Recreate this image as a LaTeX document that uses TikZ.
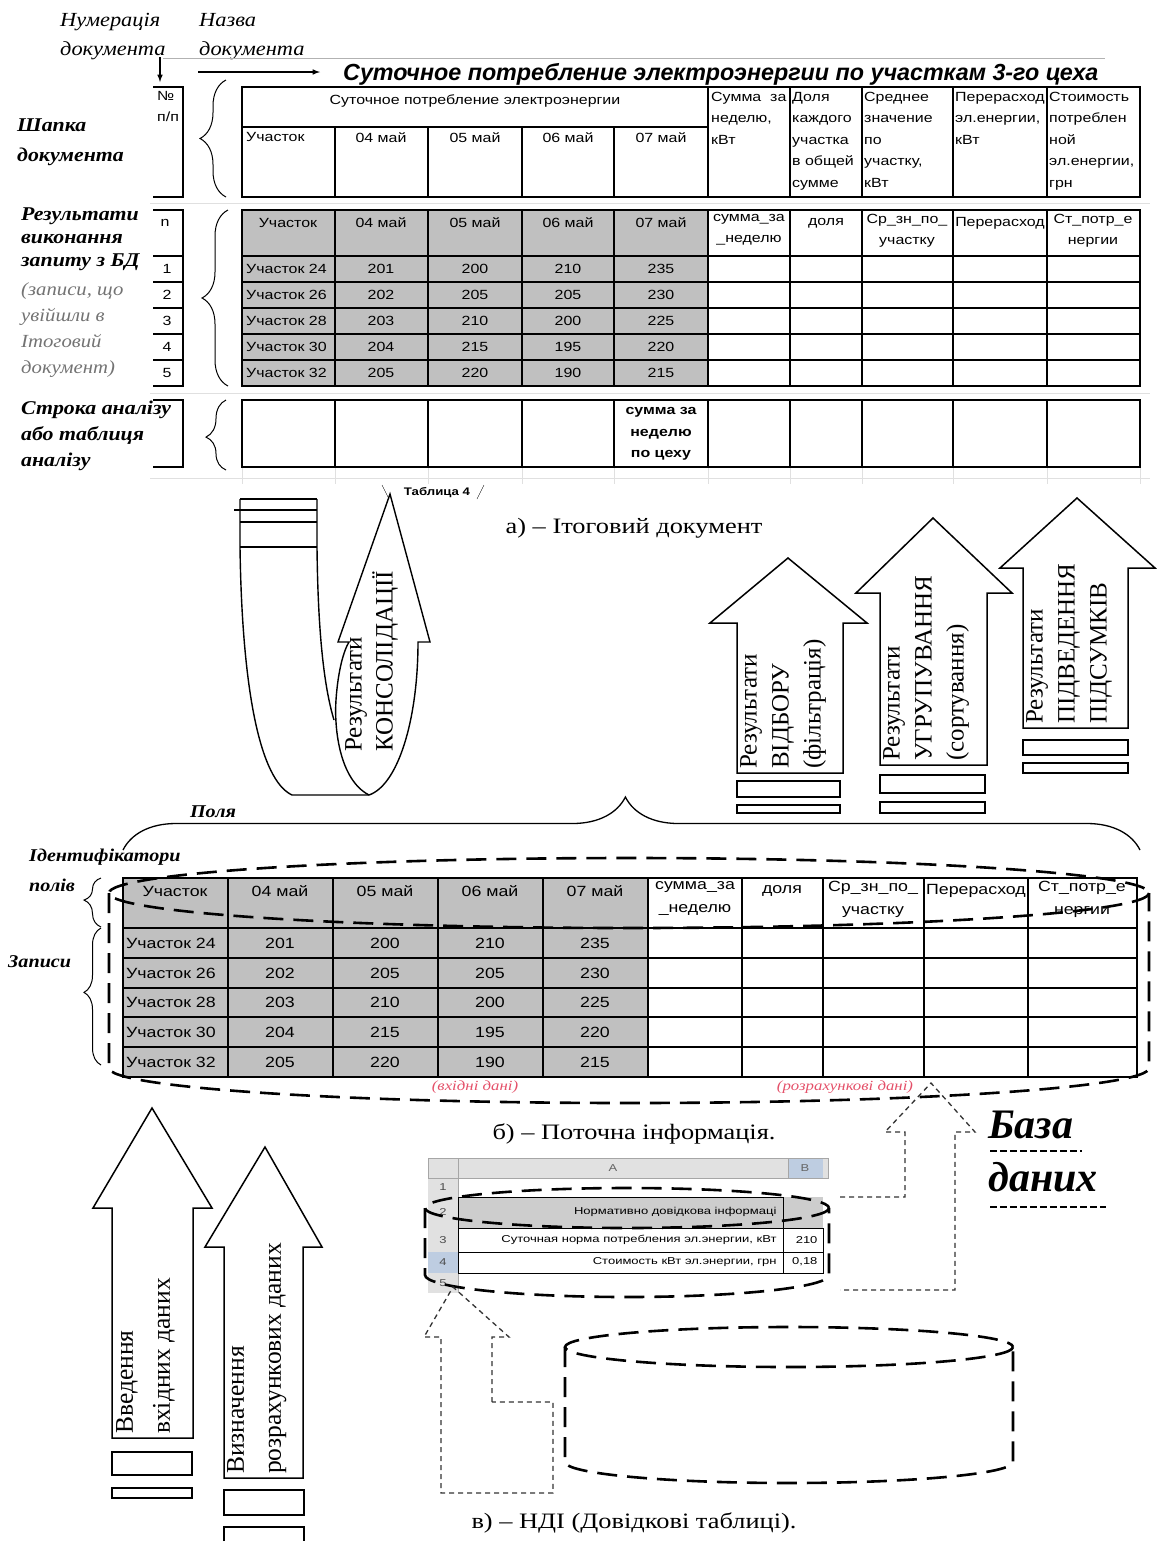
\documentclass[tikz,border=0pt]{standalone}
\usepackage{fontspec}
\setmainfont{Liberation Serif}
\setsansfont{Liberation Sans}
\newfontfamily\tabfam{Liberation Sans}[FakeStretch=1.2]
\newfontfamily\ndifam{Liberation Sans}[FakeStretch=1.3]
\newfontfamily\lblfam{Liberation Serif}[FakeStretch=1.12]
\newfontfamily\capfam{Liberation Serif}[FakeStretch=1.2]
\usepackage{xcolor}
\usetikzlibrary{decorations.pathreplacing}

\definecolor{cellgray}{RGB}{192,192,192}
\definecolor{sheetgray}{RGB}{225,225,225}
\definecolor{sheetblue}{RGB}{190,205,225}
\definecolor{notered}{RGB}{228,80,105}

\newcommand{\tabA}{\tabfam\fontsize{13.3}{21.5}\selectfont}
\newcommand{\tabB}{\tabfam\fontsize{14.8}{23}\selectfont}
\newcommand{\tabC}{\ndifam\fontsize{10}{11}\selectfont}
\newcommand{\arrfont}{\fontsize{25}{32}\selectfont}
\newcommand{\capfont}{\capfam\fontsize{22}{24}\selectfont}

\tikzset{
  tline/.style={line width=1.6pt},
  tbold/.style={line width=2.4pt},
  faint/.style={black!12, line width=0.8pt},
  cellA/.style={font=\tabA, inner sep=0pt, align=left},
  cellB/.style={font=\tabB, inner sep=0pt, align=center},
  lbl/.style={inner sep=0pt, align=left, anchor=north west},
  bigarrow/.style={line width=1.5pt, fill=white},
  arrtext/.style={font=\arrfont, inner sep=0pt, align=left, rotate=90, anchor=north west},
  dbdash/.style={line width=2.6pt, dash pattern=on 20pt off 10pt},
  dashlink/.style={line width=1.3pt, black!80, dash pattern=on 5pt off 4pt},
  lbrace/.style={decorate, line width=1pt}
}

\begin{document}
\begin{tikzpicture}[x=1pt, y=-1pt]
  \useasboundingbox (0,0) rectangle (1160,1551);

  % ---- а) Ітоговий документ
  % сітка аркуша
  \foreach \y in {203,393,478} \draw[faint] (150,\y) -- (1150,\y);
  \foreach \x in {242,335,428,522,614,708,790,862,953,1047,1140} \draw[faint] (\x,467) -- (\x,484);

  \node[lbl, font=\lblfam\itshape\fontsize{20}{29}\selectfont] (numlbl) at (60,13) {Нумерація\\документа};
  \node[lbl, font=\lblfam\itshape\fontsize{20}{29}\selectfont] (namelbl) at (199,13) {Назва\\документа};
  \draw[gray!60] (163,58) -- (1105,58);
  \coordinate (numtip) at (160,82);
  \coordinate (nametip) at (320,72);
  \draw[line width=1.5pt, -latex] (160,57) -- (numtip);
  \draw[line width=1.5pt, -latex] (198,72) -- (nametip);
  \node[font=\sffamily\bfseries\itshape\fontsize{23.3}{24}\selectfont, inner sep=0pt, anchor=west] (title) at (343,74) {Суточное потребление электроэнергии по участкам 3-го цеха};

  % шапка
  \draw[tline] (153,87) -- (183,87) -- (183,197) -- (153,197);
  \node[cellA, anchor=north west] (nph) at (157,91) {№\\п/п};
  \draw[tline] (242,87) rectangle (1140,197);
  \draw[tline] (242,127) -- (708,127);
  \foreach \x in {335,428,522,614} \draw[tline] (\x,127) -- (\x,197);
  \foreach \x in {708,790,862,953,1047} \draw[tline] (\x,87) -- (\x,197);
  \node[cellA] (hsum) at (475,101) {Суточное потребление электроэнергии};
  \node[cellA, anchor=north west] (hu) at (246,132) {Участок};
  \foreach \x/\d in {381/04, 475/05, 568/06, 661/07}
    \node[cellA, anchor=north] at (\x,132) {\d\ май};
  \node[cellA, anchor=north west] (hs) at (711,92) {Сумма\ \ за\\неделю,\\кВт};
  \node[cellA, anchor=north west] (hd) at (792,92) {Доля\\каждого\\участка\\в общей\\сумме};
  \node[cellA, anchor=north west] (hm) at (864,92) {Среднее\\значение\\по\\участку,\\кВт};
  \node[cellA, anchor=north west] (hp) at (955,92) {Перерасход\\эл.енергии,\\кВт};
  \node[cellA, anchor=north west] (hc) at (1049,92) {Стоимость\\потреблен\\ной\\эл.енергии,\\грн};

  % результати запиту
  \fill[cellgray] (242,210) rectangle (708,386);
  \draw[tbold] (242,210) rectangle (1140,386);
  \foreach \y in {256,282,308,334,360} {
    \draw[tbold] (242,\y) -- (1140,\y);
    \draw[tbold] (153,\y) -- (183,\y);
  }
  \foreach \x in {335,428,522,614,708,790,862,953,1047} \draw[tbold] (\x,210) -- (\x,386);
  \draw[tbold] (153,210) -- (183,210) -- (183,386) -- (153,386);
  \node[cellA] (qn) at (165,223) {n};
  \node[cellA] (qu) at (288,223) {Участок};
  \foreach \x/\d in {381/04, 475/05, 568/06, 661/07}
    \node[cellA] at (\x,223) {\d\ май};
  \node[cellA, align=center, anchor=north] at (749,214) {сумма\_за\\\_неделю};
  \node[cellA] at (826,223) {доля};
  \node[cellA, align=center, anchor=north] at (907,214) {Ср\_зн\_по\_\\участку};
  \node[cellA] at (1000,223) {Перерасход};
  \node[cellA, align=center, anchor=north] at (1093,214) {Ст\_потр\_е\\нергии};
  \foreach \y/\k/\u/\a/\b/\c/\d in {269/1/24/201/200/210/235, 295/2/26/202/205/205/230,
      321/3/28/203/210/200/225, 347/4/30/204/215/195/220, 373/5/32/205/220/190/215} {
    \node[cellA] at (167,\y) {\k};
    \node[cellA, anchor=west] at (246,\y) {Участок \u};
    \node[cellA] at (381,\y) {\a};
    \node[cellA] at (475,\y) {\b};
    \node[cellA] at (568,\y) {\c};
    \node[cellA] at (661,\y) {\d};
  }

  % строка аналізу
  \fill[white] (242,400) rectangle (1140,467);
  \draw[tbold] (242,400) rectangle (1140,467);
  \foreach \x in {335,428,522,614,708,790,862,953,1047} \draw[tbold] (\x,400) -- (\x,467);
  \draw[tbold] (153,400) -- (183,400) -- (183,467) -- (153,467);
  \node[cellA, align=center, font=\tabA\bfseries] (an) at (661,434) {сумма за\\неделю\\по цеху};

  \node[font=\tabfam\bfseries\fontsize{11}{12}\selectfont, inner sep=1pt, fill=white] (tab) at (437,493) {Таблица 4};
  \draw (382,485) -- (389,499);
  \draw (484,485) -- (477,499);

  % підписи зліва
  \node[lbl, font=\lblfam\bfseries\itshape\fontsize{19.5}{30}\selectfont] (shapka) at (17,119) {Шапка\\документа};
  \draw[lbrace, decoration={brace, amplitude=26pt, aspect=0.5}] (226,197) -- (226,80);
  \node[lbl, font=\lblfam\bfseries\itshape\fontsize{19.5}{23}\selectfont] (rez) at (21,208) {Результати\\виконання\\запиту з БД};
  \node[lbl, font=\lblfam\itshape\fontsize{18.5}{26}\selectfont, text=black!55] (zap) at (21,282) {(записи, що\\увійшли в\\Ітоговий\\документ)};
  \draw[lbrace, decoration={brace, amplitude=26pt, aspect=0.5}] (228,386) -- (228,210);
  \node[lbl, font=\lblfam\bfseries\itshape\fontsize{19.5}{26}\selectfont] (str) at (21,401) {Строка аналізу\\або таблиця\\аналізу};
  \draw[lbrace, decoration={brace, amplitude=20pt, aspect=0.47}] (226,470) -- (226,400);

  \node[font=\capfont, inner sep=0pt] (capA) at (634,528) {а) – Ітоговий документ};

  % консолідація
  \draw[line width=1.4pt] (240,499) -- (317,499);
  \draw[line width=1.4pt] (234,510) -- (317,510);
  \draw[line width=1.4pt] (240,522) -- (317,522);
  \draw[line width=1.4pt] (240,547) -- (317,547);
  \draw[line width=1.4pt] (240,499) -- (240,547) .. controls (242,690) and (260,780) .. (292,795) -- (369,795);
  \draw[line width=1.4pt] (317,499) -- (317,547) .. controls (318,640) and (325,690) .. (334,720);
  \draw[line width=1.4pt] (369,795) .. controls (340,780) and (334,730) .. (336,700)
       .. controls (338,670) and (344,650) .. (349,642) -- (338,642) -- (390,494) -- (430,642) -- (418,642)
       .. controls (418,720) and (398,785) .. (369,795);
  \node[arrtext, font=\fontsize{25}{31}\selectfont] (kons) at (345,752) {Результати\\КОНСОЛІДАЦІЇ};

  % відбір, групування, підсумки
  \draw[bigarrow] (737,773) -- (737,623) -- (710,623) -- (788,558) -- (867,623) -- (843,623) -- (843,773) -- cycle;
  \draw[line width=1.5pt] (737,781) rectangle (840,797);
  \draw[line width=1.5pt] (737,805) rectangle (840,813);
  \node[arrtext] (vidb) at (740,769) {Результати\\ВІДБОРУ\\(фільтрація)};

  \draw[bigarrow] (880,765) -- (880,593) -- (856,593) -- (933,518) -- (1012,593) -- (987,593) -- (987,765) -- cycle;
  \draw[line width=1.5pt] (880,775) rectangle (985,793);
  \draw[line width=1.5pt] (880,802) rectangle (985,813);
  \node[arrtext] (grup) at (883,761) {Результати\\УГРУПУВАННЯ\\(сортування)};

  \draw[bigarrow] (1023,728) -- (1023,568) -- (1000,568) -- (1077,498) -- (1155,568) -- (1128,568) -- (1128,728) -- cycle;
  \draw[line width=1.5pt] (1023,740) rectangle (1128,755);
  \draw[line width=1.5pt] (1023,763) rectangle (1128,773);
  \node[arrtext] (pids) at (1026,724) {Результати\\ПІДВЕДЕННЯ\\ПІДСУМКІВ};

  % ---- б) Поточна інформація
  \node[font=\lblfam\bfseries\itshape\fontsize{18}{20}\selectfont, inner sep=0pt] (polya) at (213,812) {Поля};
  \draw[lbrace, line width=1.3pt, decoration={brace, amplitude=53pt, aspect=0.494}] (123,850) -- (1140,850);

  \fill[cellgray] (123,878) rectangle (648,1077);
  \draw[tline] (123,878) rectangle (1137,1077);
  \foreach \y in {928,958,988,1017,1047} \draw[tline] (123,\y) -- (1137,\y);
  \foreach \x in {228,333,438,543,648,742,823,924,1028} \draw[tline] (\x,878) -- (\x,1077);
  \node[cellB] (fu) at (175,891) {Участок};
  \foreach \x/\d in {280/04, 385/05, 490/06, 595/07}
    \node[cellB] at (\x,891) {\d\ май};
  \node[cellB, anchor=north] at (695,881) {сумма\_за\\\_неделю};
  \node[cellB] at (782,891) {доля};
  \node[cellB, anchor=north] at (873,881) {Ср\_зн\_по\_\\участку};
  \node[cellB] at (976,891) {Перерасход};
  \node[cellB, anchor=north] at (1082,881) {Ст\_потр\_е\\нергии};
  \foreach \y/\u/\a/\b/\c/\d in {943/24/201/200/210/235, 973/26/202/205/205/230,
      1002/28/203/210/200/225, 1032/30/204/215/195/220, 1062/32/205/220/190/215} {
    \node[cellB, anchor=west] at (126,\y) {Участок \u};
    \node[cellB] at (280,\y) {\a};
    \node[cellB] at (385,\y) {\b};
    \node[cellB] at (490,\y) {\c};
    \node[cellB] at (595,\y) {\d};
  }
  \node[font=\capfam\itshape\fontsize{14}{16}\selectfont, text=notered, inner sep=0pt] (vhd) at (475,1087) {(вхідні дані)};
  \node[font=\capfam\itshape\fontsize{14}{16}\selectfont, text=notered, inner sep=0pt] (rozd) at (845,1087) {(розрахункові дані)};

  % база даних (циліндр)
  \draw[dbdash] (629,893) ellipse [x radius=520, y radius=35];
  \draw[dbdash] (109,893) -- (109,1068) arc [start angle=180, end angle=0, x radius=520, y radius=35] -- (1149,893);

  \node[lbl, font=\lblfam\bfseries\itshape\fontsize{18}{20}\selectfont] (ident) at (29,849) {Ідентифікатори};
  \node[lbl, font=\lblfam\bfseries\itshape\fontsize{18}{20}\selectfont] (pol) at (29,879) {полів};
  \draw[lbrace, decoration={brace, amplitude=17pt, aspect=0.55}] (101,927) -- (101,878);
  \node[lbl, font=\lblfam\bfseries\itshape\fontsize{18}{20}\selectfont] (zapys) at (8,955) {Записи};
  \draw[lbrace, decoration={brace, amplitude=17pt, aspect=0.53}] (101,1065) -- (101,928);

  \node[font=\capfont, inner sep=0pt] (capB) at (634,1134) {б) – Поточна інформація.};

  \node[lbl, font=\bfseries\itshape\fontsize{42}{53}\selectfont] (bd) at (988,1111) {База\\даних};
  \draw[line width=2.4pt, dash pattern=on 7pt off 3pt] (990,1151) -- (1082,1151);
  \draw[line width=2.4pt, dash pattern=on 7pt off 3pt] (990,1207) -- (1106,1207);

  % ---- в) НДІ
  \fill[sheetgray] (428,1158) rectangle (828,1178);
  \fill[sheetblue] (788,1158) rectangle (823,1178);
  \fill[sheetgray] (428,1178) rectangle (458,1293);
  \fill[sheetblue] (428,1252) rectangle (458,1273);
  \draw[gray!70, line width=0.6pt] (428,1158) rectangle (828,1178);
  \draw[gray!70, line width=0.6pt] (458,1158) -- (458,1293);
  \draw[gray!70, line width=0.6pt] (788,1158) -- (788,1178);
  \node[font=\tabC, text=black!60] (colA) at (613,1168) {A};
  \node[font=\tabC, text=black!60] (colB) at (805,1168) {B};
  \foreach \y/\r in {1187/1, 1212/2, 1240/3, 1262/4, 1283/5}
    \node[font=\tabC, text=black!70] at (443,\y) {\r};
  \fill[cellgray!80] (458,1197) rectangle (823,1228);
  \draw[line width=0.9pt] (458,1197) rectangle (783,1228);
  \draw[line width=0.9pt] (458,1228) rectangle (783,1252);
  \draw[line width=0.9pt] (458,1252) rectangle (783,1273);
  \draw[line width=0.9pt] (783,1228) rectangle (823,1252);
  \draw[line width=0.9pt] (783,1252) rectangle (823,1273);
  \node[font=\tabC, anchor=east] (ndi) at (780,1212) {Нормативно довідкова інформаці};
  \node[font=\tabC, anchor=east] (norm) at (780,1240) {Суточная норма потребления эл.энергии, кВт};
  \node[font=\tabC, anchor=east] (cost) at (780,1262) {Стоимость кВт эл.энергии, грн};
  \node[font=\tabC, anchor=east] (v210) at (821,1240) {210};
  \node[font=\tabC, anchor=east] (v018) at (821,1262) {0,18};

  \draw[dbdash] (627,1208) ellipse [x radius=202, y radius=20];
  \draw[dbdash] (425,1208) -- (425,1275) arc [start angle=180, end angle=0, x radius=202, y radius=22] -- (829,1208);

  \draw[dbdash] (789,1347) ellipse [x radius=224, y radius=20];
  \draw[dbdash] (565,1347) -- (565,1462) arc [start angle=180, end angle=0, x radius=224, y radius=21] -- (1013,1347);

  \draw[dashlink] (840,1197) -- (905,1197) -- (905,1132) -- (885,1132) -- (931,1083) -- (975,1132) -- (955,1132) -- (955,1290) -- (840,1290);
  \draw[dashlink] (492,1402) -- (492,1337) -- (509,1337) -- (453,1287) -- (424,1337) -- (441,1337) -- (441,1493) -- (553,1493) -- (553,1402) -- cycle;

  \node[font=\capfont, inner sep=0pt] (capC) at (634,1523) {в) – НДІ (Довідкові таблиці).};

  % введення і визначення даних
  \draw[bigarrow] (112,1438) -- (112,1208) -- (93,1208) -- (152,1108) -- (212,1208) -- (193,1208) -- (193,1438) -- cycle;
  \draw[line width=1.5pt] (112,1452) rectangle (192,1475);
  \draw[line width=1.5pt] (112,1488) rectangle (192,1498);
  \node[arrtext, font=\fontsize{25.5}{37}\selectfont] (vved) at (116,1434) {Введення\\вхідних даних};

  \draw[bigarrow] (224,1478) -- (224,1247) -- (205,1247) -- (265,1147) -- (322,1247) -- (303,1247) -- (303,1478) -- cycle;
  \draw[line width=1.5pt] (224,1490) rectangle (304,1515);
  \draw[line width=1.5pt] (224,1541) -- (224,1527) -- (304,1527) -- (304,1541);
  \node[arrtext, font=\fontsize{25.5}{37}\selectfont] (vyzn) at (227,1474) {Визначення\\розрахункових даних};
\end{tikzpicture}
\end{document}
